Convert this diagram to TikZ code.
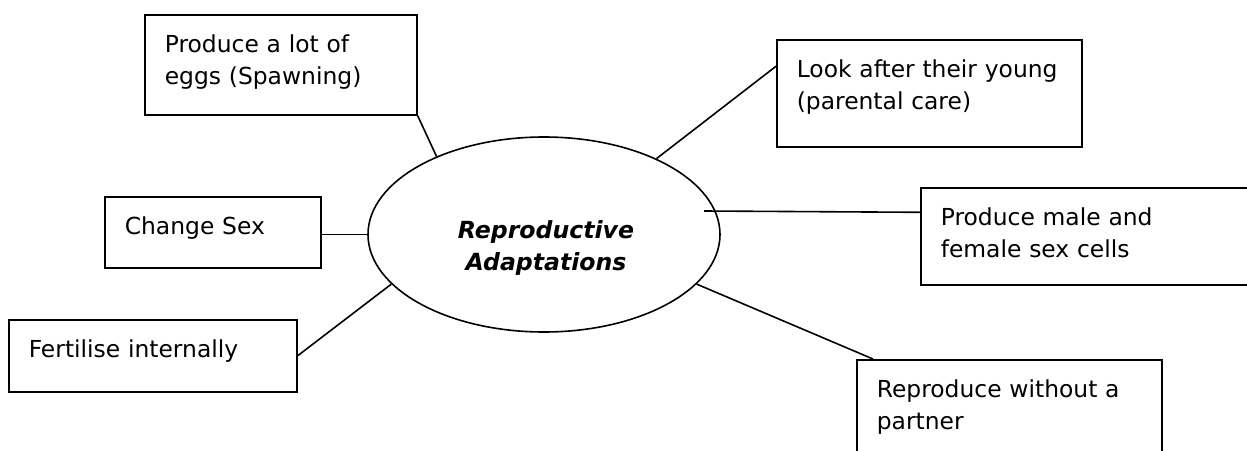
\documentclass[tikz,border=0pt]{standalone}
\usepackage{fontspec}
\setmainfont{DejaVu Sans}
\usetikzlibrary{shapes.geometric}

\begin{document}
\begin{tikzpicture}[x=1pt,y=-1pt,
    box/.style={draw,line width=1.6pt,anchor=north west,align=left,inner xsep=20pt,inner ysep=18pt,text height=20pt,font=\fontsize{23.4}{32}\selectfont},
    hub/.style={draw,ellipse,line width=1.6pt,minimum width=352pt,minimum height=195pt,inner sep=0pt},
    hubtext/.style={align=center,font=\fontsize{23.6}{32}\selectfont\bfseries\itshape},
    link/.style={line width=1.6pt}]
  \useasboundingbox (0,0) rectangle (1247,450);
  \clip (0,0) rectangle (1247,450);
  % centre
  \node[hub] (hub) at (544,234.5) {};
  \node[hubtext] (title) at ([xshift=2pt,yshift=-13.5pt]hub.center) {Reproductive\\Adaptations};
  % left side
  \node[box,text width=232pt,text depth=44pt] (eggs) at (144,14) {Produce a lot of\\eggs (Spawning)};
  \node[box,text width=176pt,text depth=15pt] (change) at (104,196) {Change Sex};
  \node[box,text width=248pt,text depth=16pt] (fert) at (8,319) {Fertilise internally};
  % right side
  \node[box,text width=265pt,text depth=51pt] (look) at (776,39) {\mbox{Look after their young}\\(parental care)};
  \node[box,text width=300pt,text depth=41pt] (male) at (920,187) {Produce male and\\female sex cells};
  \node[box,text width=265pt,text depth=51pt] (repro) at (856,359) {Reproduce without a\\partner};
  % links
  \draw[link] (eggs.south east) -- (hub.144);
  \draw[link] (change.east |- hub.west) -- (hub.west);
  \draw[link] (fert.east) -- (hub.198);
  \draw[link] (look.170) -- (hub.34);
  \draw[link] ([yshift=24pt]male.west) -- ([xshift=160pt,yshift=23.5pt]hub.center);
  \draw[link] ([xshift=17pt]repro.north west) -- (hub.342);
\end{tikzpicture}
\end{document}
